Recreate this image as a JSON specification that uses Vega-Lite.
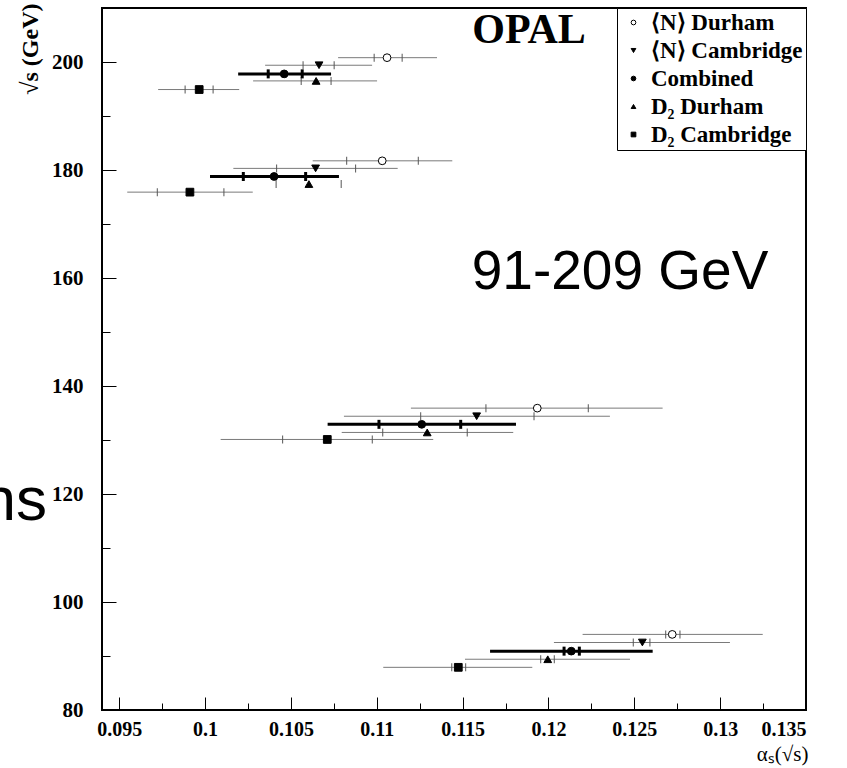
{
  "$schema": "https://vega.github.io/schema/vega-lite/v6.json",
  "width": 704,
  "height": 702,
  "autosize": {"type": "none"},
  "padding": {"left": 102, "top": 8, "right": 41, "bottom": 58},
  "background": "white",
  "config": {
    "view": {"stroke": "black", "strokeWidth": 2},
    "axis": {"grid": false, "domain": false}
  },
  "datasets": {
    "pts": [
      {"group": 200, "series": "⟨N⟩ Durham", "y": 200.8, "a": 0.11060, "stat_lo": 0.10985, "stat_hi": 0.11148, "tot_lo": 0.10775, "tot_hi": 0.11351},
      {"group": 200, "series": "⟨N⟩ Cambridge", "y": 199.4, "a": 0.10664, "stat_lo": 0.10571, "stat_hi": 0.10752, "tot_lo": 0.10350, "tot_hi": 0.10973},
      {"group": 200, "series": "Combined", "y": 197.8, "a": 0.10461, "stat_lo": 0.10368, "stat_hi": 0.10566, "tot_lo": 0.10193, "tot_hi": 0.10734},
      {"group": 200, "series": "D₂ Durham", "y": 196.5, "a": 0.10647, "stat_lo": 0.10560, "stat_hi": 0.10734, "tot_lo": 0.10280, "tot_hi": 0.11002},
      {"group": 200, "series": "D₂ Cambridge", "y": 194.9, "a": 0.09966, "stat_lo": 0.09884, "stat_hi": 0.10047, "tot_lo": 0.09727, "tot_hi": 0.10199},
      {"group": 180, "series": "⟨N⟩ Durham", "y": 181.7, "a": 0.11032, "stat_lo": 0.10825, "stat_hi": 0.11242, "tot_lo": 0.10627, "tot_hi": 0.11440},
      {"group": 180, "series": "⟨N⟩ Cambridge", "y": 180.3, "a": 0.10644, "stat_lo": 0.10417, "stat_hi": 0.10877, "tot_lo": 0.10165, "tot_hi": 0.11122},
      {"group": 180, "series": "Combined", "y": 178.8, "a": 0.10402, "stat_lo": 0.10223, "stat_hi": 0.10586, "tot_lo": 0.10029, "tot_hi": 0.10780},
      {"group": 180, "series": "D₂ Durham", "y": 177.4, "a": 0.10605, "stat_lo": 0.10414, "stat_hi": 0.10793, "tot_lo": 0.10605, "tot_hi": 0.10605},
      {"group": 180, "series": "D₂ Cambridge", "y": 175.9, "a": 0.09912, "stat_lo": 0.09722, "stat_hi": 0.10110, "tot_lo": 0.09547, "tot_hi": 0.10278},
      {"group": 133, "series": "⟨N⟩ Durham", "y": 135.9, "a": 0.11935, "stat_lo": 0.11636, "stat_hi": 0.12232, "tot_lo": 0.11199, "tot_hi": 0.12665},
      {"group": 133, "series": "⟨N⟩ Cambridge", "y": 134.4, "a": 0.11582, "stat_lo": 0.11256, "stat_hi": 0.11916, "tot_lo": 0.10809, "tot_hi": 0.12358},
      {"group": 133, "series": "Combined", "y": 132.9, "a": 0.11262, "stat_lo": 0.11013, "stat_hi": 0.11489, "tot_lo": 0.10714, "tot_hi": 0.11811},
      {"group": 133, "series": "D₂ Durham", "y": 131.4, "a": 0.11294, "stat_lo": 0.11035, "stat_hi": 0.11527, "tot_lo": 0.10796, "tot_hi": 0.11795},
      {"group": 133, "series": "D₂ Cambridge", "y": 130.1, "a": 0.10712, "stat_lo": 0.10452, "stat_hi": 0.10974, "tot_lo": 0.10091, "tot_hi": 0.11329},
      {"group": 91, "series": "⟨N⟩ Durham", "y": 94.0, "a": 0.12721, "stat_lo": 0.12683, "stat_hi": 0.12766, "tot_lo": 0.12199, "tot_hi": 0.13248},
      {"group": 91, "series": "⟨N⟩ Cambridge", "y": 92.5, "a": 0.12547, "stat_lo": 0.12494, "stat_hi": 0.12591, "tot_lo": 0.12032, "tot_hi": 0.13057},
      {"group": 91, "series": "Combined", "y": 90.9, "a": 0.12133, "stat_lo": 0.12091, "stat_hi": 0.12180, "tot_lo": 0.11660, "tot_hi": 0.12607},
      {"group": 91, "series": "D₂ Durham", "y": 89.4, "a": 0.11996, "stat_lo": 0.11955, "stat_hi": 0.12034, "tot_lo": 0.11514, "tot_hi": 0.12475},
      {"group": 91, "series": "D₂ Cambridge", "y": 87.9, "a": 0.11475, "stat_lo": 0.11437, "stat_hi": 0.11518, "tot_lo": 0.11038, "tot_hi": 0.11906}
    ],
    "notes": [
      {"kind": "opal", "label": "OPAL", "a": 0.11887, "y": 203.5},
      {"kind": "big", "label": "91-209 GeV", "a": 0.12417, "y": 161.1},
      {"kind": "ns", "label": "ns", "a": 0.0908, "y": 115.2}
    ]
  },
  "layer": [
    {
      "data": {"name": "pts"},
      "transform": [{"filter": "datum.series != 'Combined'"}],
      "mark": {"type": "rule", "color": "#7a7a7a", "strokeWidth": 1},
      "encoding": {
        "x": {
          "field": "tot_lo", "type": "quantitative",
          "scale": {"domain": [0.094, 0.135], "nice": false, "zero": false},
          "axis": {
            "values": [0.095, 0.0975, 0.1, 0.1025, 0.105, 0.1075, 0.11, 0.1125, 0.115, 0.1175, 0.12, 0.1225, 0.125, 0.1275, 0.13, 0.1325, 0.135],
            "labelExpr": "round(datum.value*10000) % 50 == 0 ? format(datum.value, '~g') : ''",
            "tickSize": {"condition": {"test": "round(datum.value*10000) % 50 == 0", "value": -13}, "value": -7},
            "tickColor": "black", "tickWidth": 1,
            "labelFont": "Liberation Serif", "labelFontWeight": "bold", "labelFontSize": 20, "labelColor": "black",
            "labelPadding": 32, "labelBaseline": "middle",
            "title": "αₛ(√s)", "titleFont": "Liberation Serif", "titleFontWeight": "normal", "titleFontSize": 21, "titleColor": "black",
            "titleX": 706, "titleY": 44, "titleAlign": "right", "titleBaseline": "middle", "titleAnchor": null
          }
        },
        "x2": {"field": "tot_hi"},
        "y": {
          "field": "y", "type": "quantitative",
          "scale": {"domain": [80, 210], "nice": false, "zero": false},
          "axis": {
            "values": [80, 85, 90, 95, 100, 105, 110, 115, 120, 125, 130, 135, 140, 145, 150, 155, 160, 165, 170, 175, 180, 185, 190, 195, 200, 205],
            "labelExpr": "datum.value % 20 == 0 ? datum.label : ''",
            "tickSize": {"condition": {"test": "datum.value % 20 == 0", "value": -14}, "value": -8},
            "tickColor": "black", "tickWidth": 1,
            "labelFont": "Liberation Serif", "labelFontWeight": "bold", "labelFontSize": 21, "labelColor": "black",
            "labelPadding": 33,
            "title": "√s (GeV)", "titleFont": "Liberation Serif", "titleFontWeight": "bold", "titleFontSize": 24, "titleColor": "black",
            "titleX": -72, "titleY": -5, "titleAlign": "right", "titleAngle": 270, "titleBaseline": "middle", "titleAnchor": null
          }
        }
      }
    },
    {
      "data": {"name": "pts"},
      "transform": [{"filter": "datum.series == 'Combined'"}],
      "mark": {"type": "rule", "color": "black", "strokeWidth": 3},
      "encoding": {
        "x": {"field": "tot_lo", "type": "quantitative"},
        "x2": {"field": "tot_hi"},
        "y": {"field": "y", "type": "quantitative"}
      }
    },
    {
      "data": {"name": "pts"},
      "transform": [{"filter": "datum.series != 'Combined'"}],
      "mark": {"type": "tick", "orient": "vertical", "size": 8, "thickness": 1, "color": "#555555", "opacity": 1},
      "encoding": {
        "x": {"field": "stat_lo", "type": "quantitative"},
        "y": {"field": "y", "type": "quantitative"}
      }
    },
    {
      "data": {"name": "pts"},
      "transform": [{"filter": "datum.series != 'Combined'"}],
      "mark": {"type": "tick", "orient": "vertical", "size": 8, "thickness": 1, "color": "#555555", "opacity": 1},
      "encoding": {
        "x": {"field": "stat_hi", "type": "quantitative"},
        "y": {"field": "y", "type": "quantitative"}
      }
    },
    {
      "data": {"name": "pts"},
      "transform": [{"filter": "datum.series == 'Combined'"}],
      "mark": {"type": "tick", "orient": "vertical", "size": 9, "thickness": 3, "color": "black", "opacity": 1},
      "encoding": {
        "x": {"field": "stat_lo", "type": "quantitative"},
        "y": {"field": "y", "type": "quantitative"}
      }
    },
    {
      "data": {"name": "pts"},
      "transform": [{"filter": "datum.series == 'Combined'"}],
      "mark": {"type": "tick", "orient": "vertical", "size": 9, "thickness": 3, "color": "black", "opacity": 1},
      "encoding": {
        "x": {"field": "stat_hi", "type": "quantitative"},
        "y": {"field": "y", "type": "quantitative"}
      }
    },
    {
      "data": {"name": "pts"},
      "mark": {"type": "point", "filled": false, "strokeWidth": 1, "opacity": 1, "size": 60},
      "encoding": {
        "x": {"field": "a", "type": "quantitative"},
        "y": {"field": "y", "type": "quantitative"},
        "shape": {
          "field": "series", "type": "nominal",
          "scale": {"domain": ["⟨N⟩ Durham", "⟨N⟩ Cambridge", "Combined", "D₂ Durham", "D₂ Cambridge"], "range": ["circle", "triangle-down", "circle", "triangle-up", "square"]},
          "legend": {
            "title": null, "orient": "none", "legendX": 515, "legendY": 0,
            "strokeColor": "black", "fillColor": "white", "padding": 3, "rowPadding": 4,
            "symbolOffset": 2, "symbolSize": 22, "symbolStrokeWidth": 1,
            "labelOffset": 6, "labelFont": "Liberation Serif", "labelFontWeight": "bold", "labelFontSize": 23, "labelColor": "black",
            "labelExpr": "datum.label + '  '", "labelLimit": 400
          }
        },
        "fill": {
          "field": "series", "type": "nominal",
          "scale": {"domain": ["⟨N⟩ Durham", "⟨N⟩ Cambridge", "Combined", "D₂ Durham", "D₂ Cambridge"], "range": ["white", "black", "black", "black", "black"]},
          "legend": {
            "title": null, "orient": "none", "legendX": 515, "legendY": 0,
            "strokeColor": "black", "fillColor": "white", "padding": 3, "rowPadding": 4,
            "symbolOffset": 2, "symbolSize": 22, "symbolStrokeWidth": 1,
            "labelOffset": 6, "labelFont": "Liberation Serif", "labelFontWeight": "bold", "labelFontSize": 23, "labelColor": "black",
            "labelExpr": "datum.label + '  '", "labelLimit": 400
          }
        },
        "stroke": {
          "field": "series", "type": "nominal",
          "scale": {"domain": ["⟨N⟩ Durham", "⟨N⟩ Cambridge", "Combined", "D₂ Durham", "D₂ Cambridge"], "range": ["black", "black", "black", "black", "black"]},
          "legend": {
            "title": null, "orient": "none", "legendX": 515, "legendY": 0,
            "strokeColor": "black", "fillColor": "white", "padding": 3, "rowPadding": 4,
            "symbolOffset": 2, "symbolSize": 22, "symbolStrokeWidth": 1,
            "labelOffset": 6, "labelFont": "Liberation Serif", "labelFontWeight": "bold", "labelFontSize": 23, "labelColor": "black",
            "labelExpr": "datum.label + '  '", "labelLimit": 400
          }
        }
      }
    },
    {
      "data": {"name": "notes"},
      "transform": [{"filter": "datum.kind == 'opal'"}],
      "mark": {"type": "text", "font": "Liberation Serif", "fontWeight": "bold", "fontSize": 42, "align": "center", "baseline": "alphabetic", "color": "black"},
      "encoding": {
        "x": {"field": "a", "type": "quantitative"},
        "y": {"field": "y", "type": "quantitative"},
        "text": {"field": "label"}
      }
    },
    {
      "data": {"name": "notes"},
      "transform": [{"filter": "datum.kind == 'big'"}],
      "mark": {"type": "text", "font": "Liberation Sans", "fontSize": 55, "align": "center", "baseline": "middle", "color": "black"},
      "encoding": {
        "x": {"field": "a", "type": "quantitative"},
        "y": {"field": "y", "type": "quantitative"},
        "text": {"field": "label"}
      }
    },
    {
      "data": {"name": "notes"},
      "transform": [{"filter": "datum.kind == 'ns'"}],
      "mark": {"type": "text", "font": "Liberation Sans", "fontSize": 62, "align": "right", "baseline": "alphabetic", "color": "black"},
      "encoding": {
        "x": {"field": "a", "type": "quantitative"},
        "y": {"field": "y", "type": "quantitative"},
        "text": {"field": "label"}
      }
    }
  ]
}
